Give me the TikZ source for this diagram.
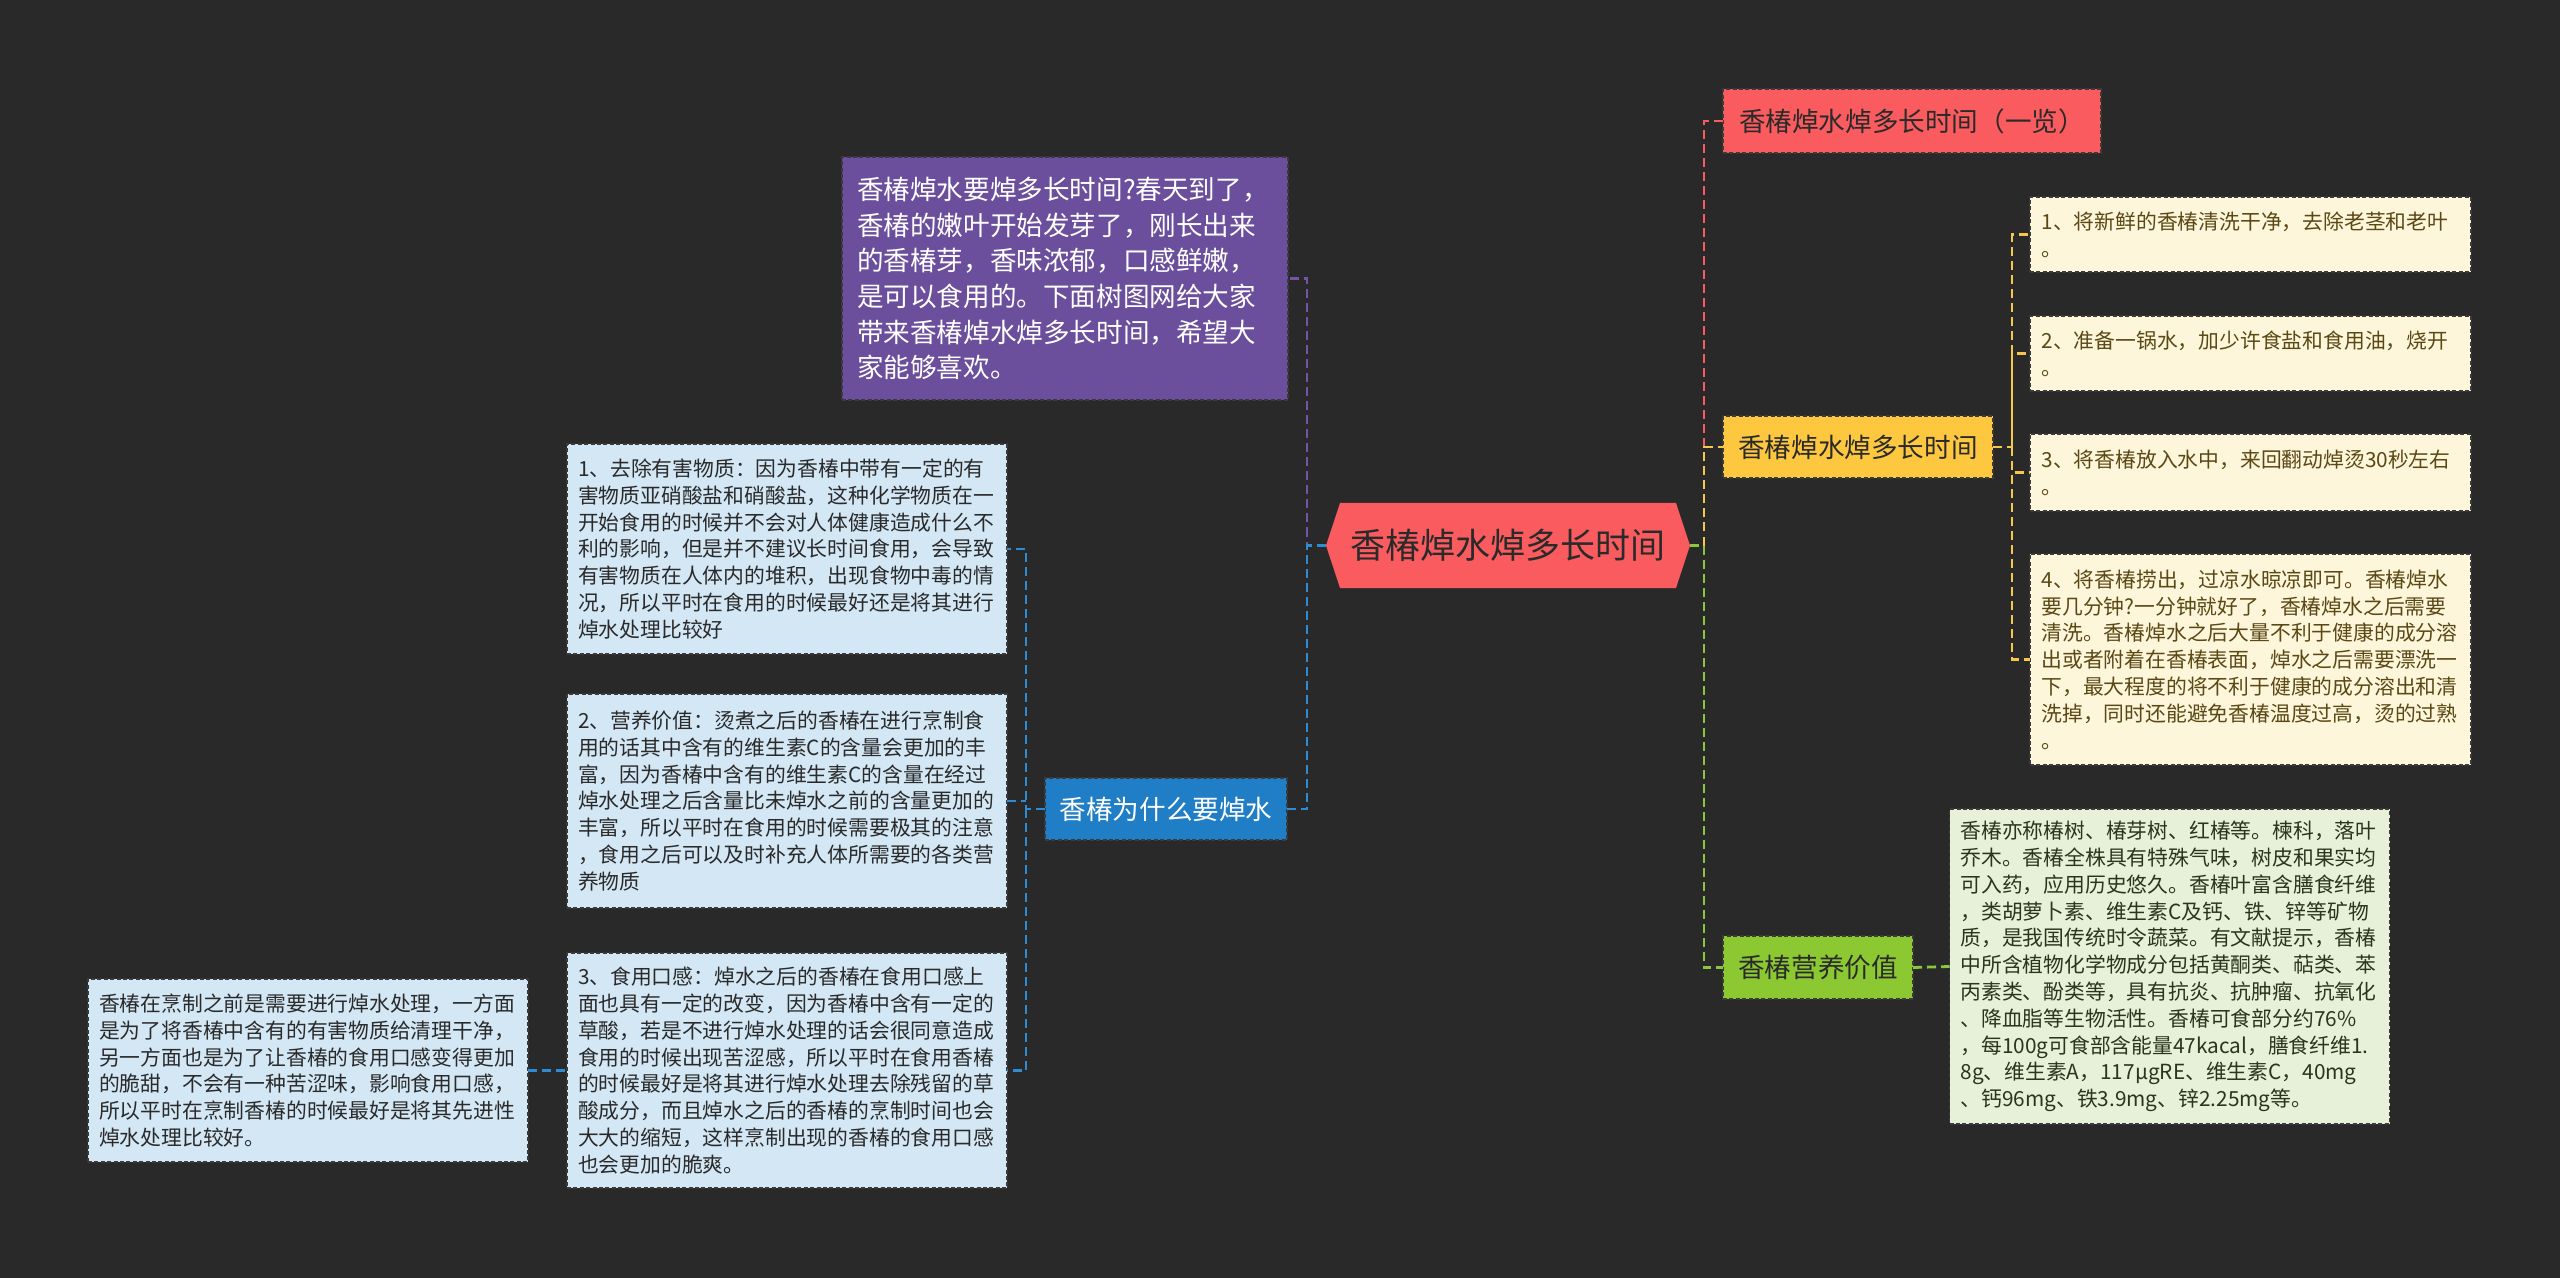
\documentclass[tikz,border=0pt]{standalone}
\usepackage{fontspec}
\setmainfont{Noto Sans CJK SC}
\usetikzlibrary{calc}
\pgfdeclarelayer{back}
\pgfsetlayers{back,main}
\definecolor{bgc}{HTML}{292929}
\definecolor{rootc}{HTML}{F95B5F}
\definecolor{purc}{HTML}{6B4F9C}
\definecolor{purl}{HTML}{7355A8}
\definecolor{bluec}{HTML}{1F7EC5}
\definecolor{bluel}{HTML}{2E8CD2}
\definecolor{lblue}{HTML}{D3E7F5}
\definecolor{redc}{HTML}{F95B5F}
\definecolor{yelc}{HTML}{FDC73F}
\definecolor{yell}{HTML}{F5C74A}
\definecolor{cream}{HTML}{FEF6DA}
\definecolor{creamtx}{HTML}{5A4815}
\definecolor{grnc}{HTML}{8CC832}
\definecolor{grnl}{HTML}{8CC63F}
\definecolor{lgrn}{HTML}{E7F1D9}
\definecolor{grntx}{HTML}{2C3320}
\definecolor{darktx}{HTML}{2A2A2A}
\definecolor{bord}{HTML}{3A3A3A}
\tikzset{
  every node/.style={inner sep=0pt,outer sep=0pt},
  boxedge/.style={draw=bord,line width=0.7pt,dash pattern=on 2pt off 1.2pt},
  smallbox/.style={boxedge,rectangle,align=left,text width=209pt,inner xsep=5.5pt,font=\fontsize{10.4pt}{13.4pt}\selectfont,minimum width=220pt},
  leftbox/.style={smallbox,fill=lblue,text=darktx},
  stepbox/.style={smallbox,fill=cream,text=creamtx},
  nutbox/.style={smallbox,fill=lgrn,text=grntx},
  branch/.style={boxedge,rectangle,align=center,font=\fontsize{13.3pt}{17.8pt}\selectfont},
  conn/.style={line width=1.4pt,dash pattern=on 4.5pt off 2.5pt},
}
\begin{document}
\begin{tikzpicture}[x=0.5pt,y=-0.5pt]
\begin{pgfonlayer}{back}
\fill[bgc] (0,0) rectangle (2560,1278);
\end{pgfonlayer}
\useasboundingbox (0,0) rectangle (2560,1278);

% root
\node[font=\fontsize{17.5pt}{21pt}\selectfont,text=darktx,minimum width=182pt,minimum height=42.5pt] (root) at (1508,545.5) {香椿焯水焯多长时间};
\begin{pgfonlayer}{back}
\fill[rootc] (root.west) -- ([xshift=7pt]root.north west) -- ([xshift=-7pt]root.north east) -- (root.east) -- ([xshift=-7pt]root.south east) -- ([xshift=7pt]root.south west) -- cycle;
\end{pgfonlayer}

% left side
\node[boxedge,rectangle,fill=purc,text=white,align=left,text width=208pt,inner xsep=7.5pt,minimum width=223pt,minimum height=121.5pt,font=\fontsize{13.3pt}{17.8pt}\selectfont] (intro) at (1065,278.5) {香椿焯水要焯多长时间?春天到了，\\香椿的嫩叶开始发芽了，刚长出来\\的香椿芽，香味浓郁，口感鲜嫩，\\是可以食用的。下面树图网给大家\\带来香椿焯水焯多长时间，希望大\\家能够喜欢。};

\node[branch,fill=bluec,text=white,minimum width=121pt,minimum height=31pt] (why) at (1166,809) {香椿为什么要焯水};

\node[leftbox,minimum height=105pt] (b1) at (787,549) {1、去除有害物质：因为香椿中带有一定的有\\害物质亚硝酸盐和硝酸盐，这种化学物质在一\\开始食用的时候并不会对人体健康造成什么不\\利的影响，但是并不建议长时间食用，会导致\\有害物质在人体内的堆积，出现食物中毒的情\\况，所以平时在食用的时候最好还是将其进行\\焯水处理比较好};

\node[leftbox,minimum height=107pt] (b2) at (787,801) {2、营养价值：烫煮之后的香椿在进行烹制食\\用的话其中含有的维生素C的含量会更加的丰\\富，因为香椿中含有的维生素C的含量在经过\\焯水处理之后含量比未焯水之前的含量更加的\\丰富，所以平时在食用的时候需要极其的注意\\，食用之后可以及时补充人体所需要的各类营\\养物质};

\node[leftbox,minimum height=117.5pt] (b3) at (787,1070.5) {3、食用口感：焯水之后的香椿在食用口感上\\面也具有一定的改变，因为香椿中含有一定的\\草酸，若是不进行焯水处理的话会很同意造成\\食用的时候出现苦涩感，所以平时在食用香椿\\的时候最好是将其进行焯水处理去除残留的草\\酸成分，而且焯水之后的香椿的烹制时间也会\\大大的缩短，这样烹制出现的香椿的食用口感\\也会更加的脆爽。};

\node[leftbox,minimum height=91.5pt] (b4) at (308,1070.5) {香椿在烹制之前是需要进行焯水处理，一方面\\是为了将香椿中含有的有害物质给清理干净，\\另一方面也是为了让香椿的食用口感变得更加\\的脆甜，不会有一种苦涩味，影响食用口感，\\所以平时在烹制香椿的时候最好是将其先进性\\焯水处理比较好。};

% right side
\node[branch,fill=redc,text=darktx,minimum width=189pt,minimum height=32pt] (ov) at (1912,121) {香椿焯水焯多长时间（一览）};
\node[branch,fill=yelc,text=darktx,minimum width=135pt,minimum height=31pt] (hl) at (1858,447) {香椿焯水焯多长时间};
\node[branch,fill=grnc,text=darktx,minimum width=95pt,minimum height=31.5pt] (nu) at (1818,967.5) {香椿营养价值};

\node[stepbox,minimum width=220.5pt,minimum height=37.5pt] (s1) at (2250.5,234.5) {1、将新鲜的香椿清洗干净，去除老茎和老叶\\。};
\node[stepbox,minimum width=220.5pt,minimum height=37.5pt] (s2) at (2250.5,353.5) {2、准备一锅水，加少许食盐和食用油，烧开\\。};
\node[stepbox,minimum width=220.5pt,minimum height=38.5pt] (s3) at (2250.5,472.5) {3、将香椿放入水中，来回翻动焯烫30秒左右\\。};
\node[stepbox,minimum width=220.5pt,minimum height=105.5pt] (s4) at (2250.5,659.5) {4、将香椿捞出，过凉水晾凉即可。香椿焯水\\要几分钟?一分钟就好了，香椿焯水之后需要\\清洗。香椿焯水之后大量不利于健康的成分溶\\出或者附着在香椿表面，焯水之后需要漂洗一\\下，最大程度的将不利于健康的成分溶出和清\\洗掉，同时还能避免香椿温度过高，烫的过熟\\。};

\node[nutbox,minimum width=219.5pt,minimum height=157.5pt] (nb) at (2169.5,966.5) {香椿亦称椿树、椿芽树、红椿等。楝科，落叶\\乔木。香椿全株具有特殊气味，树皮和果实均\\可入药，应用历史悠久。香椿叶富含膳食纤维\\，类胡萝卜素、维生素C及钙、铁、锌等矿物\\质，是我国传统时令蔬菜。有文献提示，香椿\\中所含植物化学物成分包括黄酮类、萜类、苯\\丙素类、酚类等，具有抗炎、抗肿瘤、抗氧化\\、降血脂等生物活性。香椿可食部分约76\%\\，每100g可食部含能量47kacal，膳食纤维1.\\8g、维生素A，117μgRE、维生素C，40mg\\、钙96mg、铁3.9mg、锌2.25mg等。};

% trunk points
\coordinate (LT) at (1307,545.5);
\coordinate (BT) at (1026,809);
\coordinate (RT) at (1704,545.5);
\coordinate (YT) at (2012,447);

% connectors left
\draw[conn,purl] (root.west) -- (LT) |- (intro.east);
\draw[conn,bluel] (root.west) -- (LT) |- (why.east);
\draw[conn,bluel] (why.west) -- (BT) |- (b1.east);
\draw[conn,bluel] (BT) |- (b3.east);
\draw[conn,bluel] (b2.east) -- (b2.east -| BT);
\draw[conn,bluel] (b4.east) -- (b3.west);

% connectors right
\draw[conn,redc] (root.east) -- (RT) |- (ov.west);
\draw[conn,yell] (root.east) -- (RT) |- (hl.west);
\draw[conn,grnl] (root.east) -- (RT) |- (nu.west);
\draw[conn,yell] (hl.east) -- (YT) |- (s1.west);
\draw[conn,yell] (YT) |- (s2.west);
\draw[conn,yell] (YT) |- (s3.west);
\draw[conn,yell] (YT) |- (s4.west);
\draw[conn,grnl] (nu.east) -- (nb.west);
\end{tikzpicture}
\end{document}
